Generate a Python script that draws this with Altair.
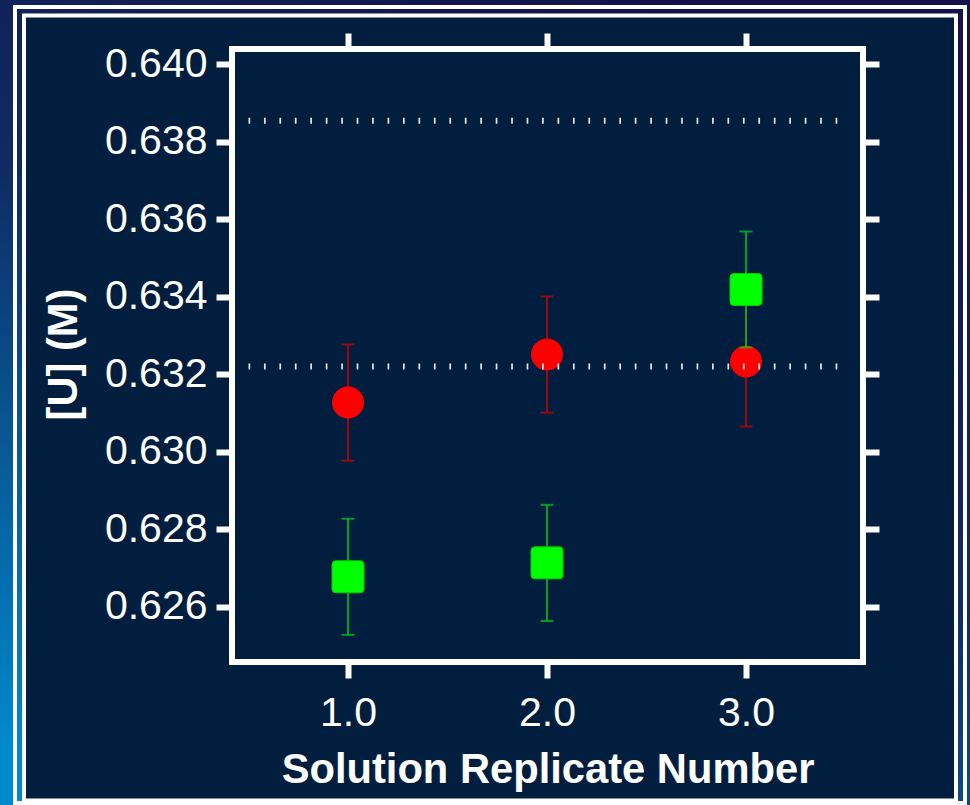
import altair as alt
import pandas as pd

# ---- data ----
replicate = [1.0, 2.0, 3.0]
red_mean = [0.63127, 0.63251, 0.63233]
red_err = [0.00150, 0.00150, 0.00168]
green_mean = [0.62677, 0.62713, 0.63419]
green_err = [0.00150, 0.00150, 0.00150]
ref_levels = [0.63855, 0.63220]
ref_x_start = [0.5, 0.5]
ref_x_end = [3.5, 3.5]
y_ticks = [0.626, 0.628, 0.630, 0.632, 0.634, 0.636, 0.638, 0.640]
x_ticks = [1.0, 2.0, 3.0]
x_domain = [0.417, 3.588]
y_domain = [0.62457, 0.64040]

red = pd.DataFrame({
    "x": replicate,
    "y": red_mean,
    "lo": [m - e for m, e in zip(red_mean, red_err)],
    "hi": [m + e for m, e in zip(red_mean, red_err)],
})
green = pd.DataFrame({
    "x": replicate,
    "y": green_mean,
    "lo": [m - e for m, e in zip(green_mean, green_err)],
    "hi": [m + e for m, e in zip(green_mean, green_err)],
})
refs = pd.DataFrame({"level": ref_levels, "x0": ref_x_start, "x1": ref_x_end})
dummy = pd.DataFrame({"a": [0]})

# ---- layout ----
W, H = 631, 613
PL, PT = 232, 49
PR = 970 - PL - W
PB = 805 - PT - H

NAVY = "#011E3F"
FONT = "Liberation Sans"

xs = alt.Scale(domain=x_domain, zero=False, nice=False)
ys = alt.Scale(domain=y_domain, zero=False, nice=False)

axis_common = dict(
    zindex=1, grid=False, domain=False, ticks=True,
    tickColor="white", tickWidth=6, tickSize=16, tickCap="butt",
    labelColor="white", labelFont=FONT, labelFontSize=41,
    titleColor="white", titleFont=FONT, titleFontSize=41.7, titleFontWeight="bold",
)

x_bottom = alt.Axis(orient="bottom", values=x_ticks, format=".1f",
                    title="Solution Replicate Number", labelPadding=47,
                    labelBaseline="alphabetic", titleBaseline="alphabetic",
                    titleX=W / 2, titleY=120, titleAlign="center", **axis_common)
y_left = alt.Axis(orient="left", values=y_ticks, format=".3f", title="[U] (M)",
                  labelPadding=9, labelBaseline="middle", titleAngle=270,
                  titleBaseline="alphabetic", titleAlign="center",
                  titleX=76 - PL, titleY=354 - PT, **axis_common)
x_top = alt.Axis(orient="top", values=x_ticks, labels=False, title=None, **axis_common)
y_right = alt.Axis(orient="right", values=y_ticks, labels=False, title=None, **axis_common)

gradient = alt.Gradient(
    gradient="linear",
    stops=[alt.GradientStop(color="#15114A", offset=0),
           alt.GradientStop(color="#0F2A62", offset=0.45),
           alt.GradientStop(color="#0088CC", offset=1)],
    x1=0.7, y1=0, x2=0.15, y2=1,
)

bg = alt.Chart(dummy).mark_rect(fill=gradient).encode(
    x=alt.value(-PL), x2=alt.value(970 - PL), y=alt.value(-PT), y2=alt.value(805 - PT))
outer = alt.Chart(dummy).mark_rect(fillOpacity=0, stroke="white", strokeWidth=4).encode(
    x=alt.value(15 - PL), x2=alt.value(965 - PL), y=alt.value(7 - PT), y2=alt.value(803 - PT))
inner = alt.Chart(dummy).mark_rect(fill=NAVY, stroke="white", strokeWidth=4).encode(
    x=alt.value(24 - PL), x2=alt.value(956 - PL), y=alt.value(15.5 - PT), y2=alt.value(800.5 - PT))
box = alt.Chart(dummy).mark_rect(fillOpacity=0, stroke="white", strokeWidth=6).encode(
    x=alt.value(0), x2=alt.value(W), y=alt.value(0), y2=alt.value(H))

red_rule = alt.Chart(red).mark_rule(color="#D00000", strokeWidth=1.5).encode(
    x=alt.X("x:Q", scale=xs, axis=x_bottom),
    y=alt.Y("lo:Q", scale=ys, axis=y_left),
    y2="hi:Q")
red_cap_lo = alt.Chart(red).mark_tick(color="#D00000", orient="horizontal", size=13, thickness=2).encode(
    x=alt.X("x:Q", scale=xs, axis=None), y=alt.Y("lo:Q", scale=ys, axis=None))
red_cap_hi = alt.Chart(red).mark_tick(color="#D00000", orient="horizontal", size=13, thickness=2).encode(
    x=alt.X("x:Q", scale=xs, axis=None), y=alt.Y("hi:Q", scale=ys, axis=None))
red_pts = alt.Chart(red).mark_point(shape="circle", filled=True, size=1024, fill="#FF0000",
                                    opacity=1, strokeWidth=0).encode(
    x=alt.X("x:Q", scale=xs, axis=None), y=alt.Y("y:Q", scale=ys, axis=None))

green_rule = alt.Chart(green).mark_rule(color="#00CC22", strokeWidth=1.5).encode(
    x=alt.X("x:Q", scale=xs, axis=x_top),
    y=alt.Y("lo:Q", scale=ys, axis=y_right),
    y2="hi:Q")
green_cap_lo = alt.Chart(green).mark_tick(color="#00CC22", orient="horizontal", size=13, thickness=2).encode(
    x=alt.X("x:Q", scale=xs, axis=None), y=alt.Y("lo:Q", scale=ys, axis=None))
green_cap_hi = alt.Chart(green).mark_tick(color="#00CC22", orient="horizontal", size=13, thickness=2).encode(
    x=alt.X("x:Q", scale=xs, axis=None), y=alt.Y("hi:Q", scale=ys, axis=None))
rounded_square = ("M -0.76 -1 L 0.76 -1 Q 1 -1 1 -0.76 L 1 0.76 Q 1 1 0.76 1 "
                  "L -0.76 1 Q -1 1 -1 0.76 L -1 -0.76 Q -1 -1 -0.76 -1 Z")
green_pts = alt.Chart(green).mark_point(shape=rounded_square, filled=True, size=1024,
                                        fill="#00FF00", opacity=1, stroke="#00D000",
                                        strokeWidth=1).encode(
    x=alt.X("x:Q", scale=xs, axis=None), y=alt.Y("y:Q", scale=ys, axis=None))

ref_lines = alt.Chart(refs).mark_rule(color="#E6E6E6", strokeWidth=6,
                                      strokeDash=[1.7, 13.75]).encode(
    x=alt.X("x0:Q", scale=xs, axis=None), x2="x1:Q",
    y=alt.Y("level:Q", scale=ys, axis=None))

chart = alt.layer(
    bg, outer, inner, box,
    red_rule, red_cap_lo, red_cap_hi, red_pts,
    green_rule, green_cap_lo, green_cap_hi, green_pts,
    ref_lines,
).resolve_axis(x="independent", y="independent").properties(
    width=W, height=H,
    padding={"left": PL, "top": PT, "right": PR, "bottom": PB},
    autosize=alt.AutoSizeParams(type="none"),
    background="#15114A",
).configure_view(stroke=None)

chart.save("out.html", embed_options={"renderer": "svg", "actions": False})
